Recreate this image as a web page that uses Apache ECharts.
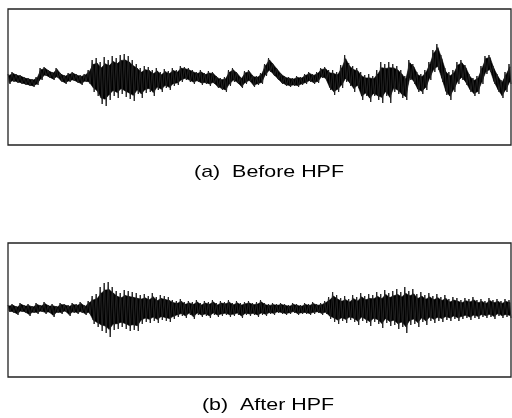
<!DOCTYPE html>
<html lang="en">
<head>
    <meta charset="UTF-8">
    <title>Before / After HPF</title>
    <script src="https://cdn.jsdelivr.net/npm/echarts@6/dist/echarts.min.js"></script>
    <style>
        html, body { margin: 0; padding: 0; background: #fff; }
        #chart { width: 512px; height: 418px; }
    </style>
</head>
<body>
    <div id="chart"></div>
</body>
</html>
<script>
    // envelope of each waveform, one column every ~4 px: upper and lower excursion
    const beforeHigh = [6, 8, 6, 5, 3, 2, 1, 3, 12, 13, 10, 8, 12, 7, 5, 7, 8, 6, 5, 6,
        10, 20, 22, 18, 23, 20, 24, 22, 25, 26, 24, 20, 16, 12, 14, 13, 10, 12, 8, 11,
        9, 12, 10, 14, 13, 12, 10, 8, 10, 7, 9, 8, 4, 2, 3, 10, 12, 8, 3, 9,
        10, 5, 4, 7, 16, 22, 17, 12, 7, 4, 3, 2, 4, 3, 6, 8, 6, 8, 12, 13,
        10, 10, 8, 15, 25, 17, 14, 12, 8, 5, 6, 4, 10, 18, 16, 18, 16, 14, 10, 4,
        20, 16, 8, 6, 10, 18, 30, 36, 25, 12, 8, 10, 18, 20, 15, 6, 2, 4, 14, 24,
        25, 14, 6, 0, 8, 16];
    const beforeLow = [-4, -2, -3, -4, -5, -6, -7, -5, 0, 4, 2, 0, 2, -2, -4, -2, -1, -3, -5, -2,
        -4, -12, -16, -24, -26, -20, -16, -18, -14, -17, -19, -21, -14, -18, -13, -12, -16, -10, -12, -8,
        -10, -6, -5, -2, 0, -2, -4, -2, -5, -4, -6, -4, -8, -10, -12, -6, -2, -4, -8, -4,
        -2, -7, -5, -4, 4, 8, 4, 0, -4, -6, -7, -6, -7, -5, -4, -2, -4, -3, 2, 0,
        -10, -15, -12, -8, -2, -6, -12, -8, -20, -16, -22, -16, -20, -23, -16, -23, -12, -14, -18, -20,
        0, -4, -12, -14, -10, 0, 8, 10, -2, -15, -20, -12, -4, 0, -5, -12, -16, -14, -4, 6,
        8, -4, -12, -18, -12, -4];

    const afterHigh = [4, 5, 3, 6, 4, 5, 3, 6, 4, 7, 4, 5, 3, 6, 5, 4, 6, 5, 7, 4,
        8, 13, 15, 22, 26, 27, 22, 18, 16, 19, 18, 17, 16, 14, 15, 13, 16, 12, 14, 13,
        12, 9, 8, 10, 7, 8, 7, 9, 6, 8, 7, 9, 6, 8, 7, 9, 6, 8, 6, 7,
        8, 6, 7, 9, 6, 5, 6, 5, 6, 5, 4, 6, 5, 4, 6, 5, 7, 5, 6, 8,
        12, 17, 14, 11, 13, 10, 14, 12, 16, 13, 15, 14, 17, 15, 19, 16, 18, 20, 17, 22,
        18, 20, 15, 17, 14, 16, 13, 15, 12, 14, 10, 12, 11, 9, 11, 10, 12, 9, 10, 8,
        11, 9, 10, 8, 10, 9];
    const afterLow = [-3, -4, -6, -3, -4, -7, -4, -5, -3, -5, -4, -8, -4, -5, -3, -7, -4, -5, -4, -6,
        -5, -15, -18, -22, -24, -28, -21, -20, -18, -20, -22, -21, -22, -15, -13, -14, -12, -14, -11, -12,
        -13, -10, -8, -7, -9, -6, -10, -6, -8, -7, -9, -6, -8, -7, -6, -8, -7, -6, -9, -6,
        -7, -6, -8, -6, -7, -5, -6, -4, -5, -6, -5, -4, -6, -5, -5, -6, -5, -4, -6, -5,
        -10, -13, -15, -12, -14, -11, -13, -16, -12, -14, -17, -13, -15, -19, -14, -17, -16, -20, -18, -24,
        -16, -15, -18, -13, -16, -12, -14, -12, -13, -11, -12, -10, -12, -10, -9, -11, -9, -10, -8, -9,
        -8, -10, -7, -9, -8, -9];

    const captions = ['(a)  Before HPF', '(b)  After HPF'];

    // zig-zag between upper and lower excursion of every column
    function trace(high, low) {
        let pts = [];
        for (let i = 0; i < high.length; i++) {
            pts.push([2 * i, high[i]]);
            pts.push([2 * i + 1, low[i]]);
        }
        return pts;
    }

    // dense core of the signal: one quad between neighbouring columns
    function band(high, low) {
        let items = [];
        for (let i = 0; i < high.length - 1; i++) {
            items.push([2 * i + 0.5, high[i], low[i], 2 * i + 2.5, high[i + 1], low[i + 1]]);
        }
        return items;
    }

    const CORE = 0.72; // share of the excursion drawn as solid core, spikes stick out past it

    function shrink(p, q) {
        let mid = (p[1] + q[1]) / 2;
        return [[p[0], mid + (p[1] - mid) * CORE], [q[0], mid + (q[1] - mid) * CORE]];
    }

    function renderBand(params, api) {
        let l = shrink(api.coord([api.value(0), api.value(1)]), api.coord([api.value(0), api.value(2)]));
        let r = shrink(api.coord([api.value(3), api.value(4)]), api.coord([api.value(3), api.value(5)]));
        return {
            type: 'polygon',
            shape: { points: [l[0], r[0], r[1], l[1]] },
            style: { fill: '#000', stroke: '#000', lineWidth: 0.6 }
        };
    }

    (function () {
        let myChart = echarts.init(document.getElementById('chart'));
        let boxStyle = { show: true, borderColor: '#222', borderWidth: 1.3, backgroundColor: '#fff' };
        let hidden = { axisLine: { show: false }, axisTick: { show: false }, axisLabel: { show: false }, splitLine: { show: false } };
        let lastX = 2 * beforeHigh.length - 1;

        let option = {
            animation: false,
            backgroundColor: '#fff',
            grid: [
                Object.assign({ left: 8, top: 9, width: 503, height: 136 }, boxStyle),
                Object.assign({ left: 8, top: 243, width: 503, height: 134 }, boxStyle)
            ],
            xAxis: [
                Object.assign({ type: 'value', gridIndex: 0, min: 0, max: lastX }, hidden),
                Object.assign({ type: 'value', gridIndex: 1, min: 0, max: lastX }, hidden)
            ],
            yAxis: [
                Object.assign({ type: 'value', gridIndex: 0, min: -65, max: 71 }, hidden),
                Object.assign({ type: 'value', gridIndex: 1, min: -68, max: 66 }, hidden)
            ],
            series: [
                {
                    type: 'custom', xAxisIndex: 0, yAxisIndex: 0,
                    renderItem: renderBand, encode: { x: [0, 3], y: [1, 2, 4, 5] },
                    data: band(beforeHigh, beforeLow)
                },
                {
                    type: 'custom', xAxisIndex: 1, yAxisIndex: 1,
                    renderItem: renderBand, encode: { x: [0, 3], y: [1, 2, 4, 5] },
                    data: band(afterHigh, afterLow)
                },
                {
                    type: 'line', xAxisIndex: 0, yAxisIndex: 0,
                    symbol: 'none',
                    lineStyle: { color: '#222', width: 1 },
                    data: trace(beforeHigh, beforeLow)
                },
                {
                    type: 'line', xAxisIndex: 1, yAxisIndex: 1,
                    symbol: 'none',
                    lineStyle: { color: '#222', width: 1 },
                    data: trace(afterHigh, afterLow)
                }
            ],
            graphic: [
                {
                    type: 'text', x: 269, y: 172, scaleX: 1.26,
                    style: { text: captions[0], font: '17px "Liberation Sans", Arial, sans-serif', fill: '#000', align: 'center', verticalAlign: 'middle' }
                },
                {
                    type: 'text', x: 268, y: 405, scaleX: 1.26,
                    style: { text: captions[1], font: '17px "Liberation Sans", Arial, sans-serif', fill: '#000', align: 'center', verticalAlign: 'middle' }
                }
            ]
        };
        myChart.setOption(option);
    })()
</script>
